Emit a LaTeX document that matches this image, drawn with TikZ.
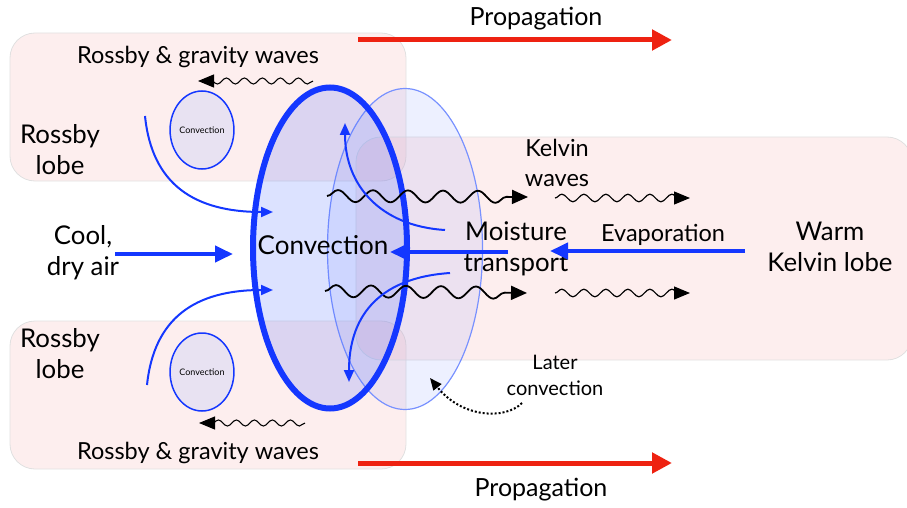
\documentclass[tikz,border=0pt]{standalone}
\usepackage{fontspec}
\setmainfont{Lato}
\usetikzlibrary{arrows.meta,decorations.pathmorphing,shapes.geometric}
\definecolor{myblue}{RGB}{20,55,255}
\definecolor{lightblue}{RGB}{120,145,255}
\definecolor{myred}{RGB}{238,34,17}
\definecolor{pinkfill}{RGB}{250,200,200}
\definecolor{blobfill}{RGB}{80,110,255}
\definecolor{smallfill}{RGB}{232,226,242}
\begin{document}
\begin{tikzpicture}[x=1pt,y=-1pt,
  lobe/.style={draw=black!12, line width=0.8pt, fill=pinkfill, fill opacity=0.3, rounded corners=25pt, inner sep=0pt},
  bigtxt/.style={font=\fontsize{25.8}{31}\selectfont, align=center, inner sep=0pt},
  midtxt/.style={font=\fontsize{23.5}{30}\selectfont, align=center, inner sep=0pt},
  proptxt/.style={font=\fontsize{25}{30}\selectfont, inner sep=0pt},
  smalltxt/.style={font=\fontsize{20}{26}\selectfont, align=center, inner sep=0pt},
  wavethin/.style={line width=1.1pt, decorate, decoration={snake, amplitude=3pt, segment length=18pt, post length=3pt}, -{Triangle[length=16pt,width=13pt]}},
  wavemid/.style={line width=1.2pt, decorate, decoration={snake, amplitude=3.8pt, segment length=22pt, post length=5pt}, -{Triangle[length=16pt,width=13pt]}},
  wavethick/.style={line width=1.8pt, decorate, decoration={snake, amplitude=6pt, segment length=35pt, post length=8pt}, -{Triangle[length=16pt,width=14pt]}},
  bluearrow/.style={draw=myblue, line width=4pt, -{Triangle[length=18pt,width=16pt]}},
  curvearrow/.style={draw=myblue, line width=2pt, -{Triangle[length=12pt,width=10pt]}},
  redarrow/.style={draw=myred, line width=5pt, -{Triangle[length=20pt,width=20pt]}},
  smallconv/.style={ellipse, draw=myblue, line width=1.5pt, fill=smallfill, minimum width=60pt, minimum height=78pt, inner sep=0pt, font=\fontsize{9}{10}\selectfont}
]
\useasboundingbox (0,0) rectangle (907,508);
\clip (0,0) rectangle (907,508);

% lobes
\node[lobe, minimum width=396pt, minimum height=148pt] (tl) at (208,107) {};
\node[lobe, minimum width=396pt, minimum height=148pt] (bl) at (208,395) {};
\node[lobe, minimum width=556pt, minimum height=223pt] (rl) at (634,248.5) {};

% convection ellipses
\node[ellipse, draw=lightblue, line width=1.2pt, fill=blobfill, fill opacity=0.1, minimum width=155pt, minimum height=321pt, inner sep=0pt] (later) at (405,249) {};
\node[ellipse, draw=myblue, line width=6pt, fill=blobfill, fill opacity=0.2, minimum width=154pt, minimum height=321pt, inner sep=0pt] (conv) at (330,248) {};

\node[smallconv] (c1) at (202,130) {Convection};
\node[smallconv] (c2) at (202,372) {Convection};

% texts
\node[proptxt] (prop1) at (536,19) {Propagation};
\node[proptxt] (prop2) at (541,490) {Propagation};
\node[midtxt] (rg1) at (198,57) {Rossby \& gravity waves};
\node[midtxt] (rg2) at (198,453) {Rossby \& gravity waves};
\node[bigtxt] (rl1) at (60,150) {Rossby\\lobe};
\node[bigtxt] (rl2) at (60,354) {Rossby\\lobe};
\node[bigtxt] (cool) at (83,253) {Cool,\\dry air};
\node[font=\fontsize{26}{30}\selectfont, inner sep=0pt] (convtxt) at (323,245) {Convection};
\node[bigtxt] (moist) at (516,249) {Moisture\\transport};
\node[midtxt] (evap) at (663,235) {Evaporation};
\node[bigtxt] (warm) at (830,247) {Warm\\Kelvin lobe};
\node[midtxt] (kw) at (557,163) {Kelvin\\waves};
\node[smalltxt] (lc) at (555,375) {Later\\convection};

% coordinates
\coordinate (r1a) at (358,40);  \coordinate (r1b) at (672,40);
\coordinate (r2a) at (358,463); \coordinate (r2b) at (672,463);
\coordinate (w1a) at (313,81);  \coordinate (w1b) at (198,81);
\coordinate (w2a) at (305,423); \coordinate (w2b) at (199,423);
\coordinate (w3a) at (327,196); \coordinate (w3b) at (528,197);
\coordinate (w4a) at (555,198); \coordinate (w4b) at (690,198);
\coordinate (w5a) at (325,291); \coordinate (w5b) at (527,293);
\coordinate (w6a) at (555,293); \coordinate (w6b) at (690,293);
\coordinate (ca) at (115,254);  \coordinate (cb) at (233,254);
\coordinate (ea) at (745,251);  \coordinate (eb) at (550,251);
\coordinate (ma) at (508,252);  \coordinate (mb) at (390,252);
\coordinate (t1a) at (145,116); \coordinate (t1b) at (273,212);
\coordinate (t2a) at (147,385); \coordinate (t2b) at (273,290);
\coordinate (m1a) at (445,230); \coordinate (m1b) at (345,123);
\coordinate (m2a) at (450,273); \coordinate (m2b) at (349,382);
\coordinate (da) at (522,403);  \coordinate (db) at (430,378);

% red propagation arrows
\draw[redarrow] (r1a) -- (r1b);
\draw[redarrow] (r2a) -- (r2b);

% waves
\draw[wavethin] (w1a) -- (w1b);
\draw[wavethin] (w2a) -- (w2b);
\draw[wavethick] (w3a) -- (w3b);
\draw[wavemid] (w4a) -- (w4b);
\draw[wavethick] (w5a) -- (w5b);
\draw[wavemid] (w6a) -- (w6b);

% blue straight arrows
\draw[bluearrow] (ca) -- (cb);
\draw[bluearrow] (ea) -- (eb);
\draw[bluearrow] (ma) -- (mb);

% curved arrows
\draw[curvearrow] (t1a) .. controls (152,185) and (195,212) .. (t1b);
\draw[curvearrow] (t2a) .. controls (154,318) and (195,290) .. (t2b);
\draw[curvearrow] (m1a) .. controls (380,226) and (345,185) .. (m1b);
\draw[curvearrow] (m2a) .. controls (375,278) and (349,320) .. (m2b);

% later convection dotted arrow
\draw[line width=2pt, dotted, -{Triangle[length=12pt,width=10pt]}] (da) .. controls (505,420) and (462,418) .. (db);
\end{tikzpicture}
\end{document}
